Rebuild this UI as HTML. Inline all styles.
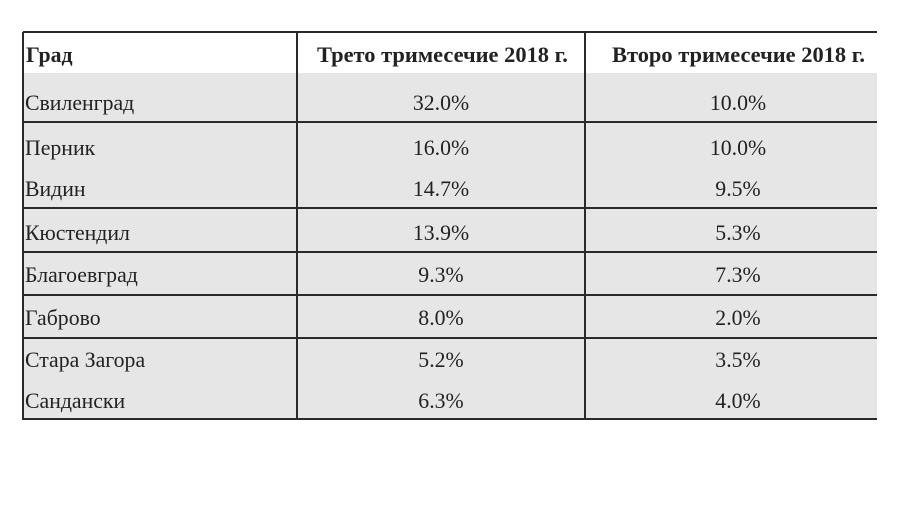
<!DOCTYPE html>
<html><head><meta charset="utf-8"><style>
body{margin:0;width:924px;height:519px;background:#fff;position:relative;overflow:hidden;font-family:"Liberation Serif","Noto Serif CJK SC",serif;color:#222}
.bg{position:absolute;left:23px;top:73px;width:854px;height:346px;background:#e6e6e6}
.h{position:absolute;left:23px;width:854px;height:2px;background:#2a2a2a}
.v{position:absolute;top:32px;height:388px;width:2px;background:#2a2a2a}
.t{position:absolute;font-size:22px;line-height:26px;white-space:nowrap;transform:scaleX(0.99);transform-origin:left center}
.c{transform-origin:center center;text-align:center;width:200px}
.b{font-weight:bold}
</style></head><body>
<div class="bg"></div>
<div class="h" style="top:31px"></div>
<div class="h" style="top:121px"></div>
<div class="h" style="top:207px"></div>
<div class="h" style="top:251px"></div>
<div class="h" style="top:294px"></div>
<div class="h" style="top:337px"></div>
<div class="h" style="top:418px"></div>
<div class="v" style="left:22px"></div>
<div class="v" style="left:296px"></div>
<div class="v" style="left:584px"></div>

<div class="t b" style="left:26px;top:42px">Град</div>
<div class="t b" style="left:317px;top:42px;transform:scaleX(1.02)">Трето тримесечие 2018 г.</div>
<div class="t b" style="left:612px;top:42px;transform:scaleX(1.02)">Второ тримесечие 2018 г.</div>

<div class="t" style="left:25px;top:90px">Свиленград</div>
<div class="t" style="left:25px;top:135px">Перник</div>
<div class="t" style="left:25px;top:176px">Видин</div>
<div class="t" style="left:25px;top:220px">Кюстендил</div>
<div class="t" style="left:25px;top:262px">Благоевград</div>
<div class="t" style="left:25px;top:305px">Габрово</div>
<div class="t" style="left:25px;top:347px">Стара Загора</div>
<div class="t" style="left:25px;top:388px">Сандански</div>

<div class="t c" style="left:341px;top:90px">32.0%</div>
<div class="t c" style="left:341px;top:135px">16.0%</div>
<div class="t c" style="left:341px;top:176px">14.7%</div>
<div class="t c" style="left:341px;top:220px">13.9%</div>
<div class="t c" style="left:341px;top:262px">9.3%</div>
<div class="t c" style="left:341px;top:305px">8.0%</div>
<div class="t c" style="left:341px;top:347px">5.2%</div>
<div class="t c" style="left:341px;top:388px">6.3%</div>

<div class="t c" style="left:638px;top:90px">10.0%</div>
<div class="t c" style="left:638px;top:135px">10.0%</div>
<div class="t c" style="left:638px;top:176px">9.5%</div>
<div class="t c" style="left:638px;top:220px">5.3%</div>
<div class="t c" style="left:638px;top:262px">7.3%</div>
<div class="t c" style="left:638px;top:305px">2.0%</div>
<div class="t c" style="left:638px;top:347px">3.5%</div>
<div class="t c" style="left:638px;top:388px">4.0%</div>
</body></html>
